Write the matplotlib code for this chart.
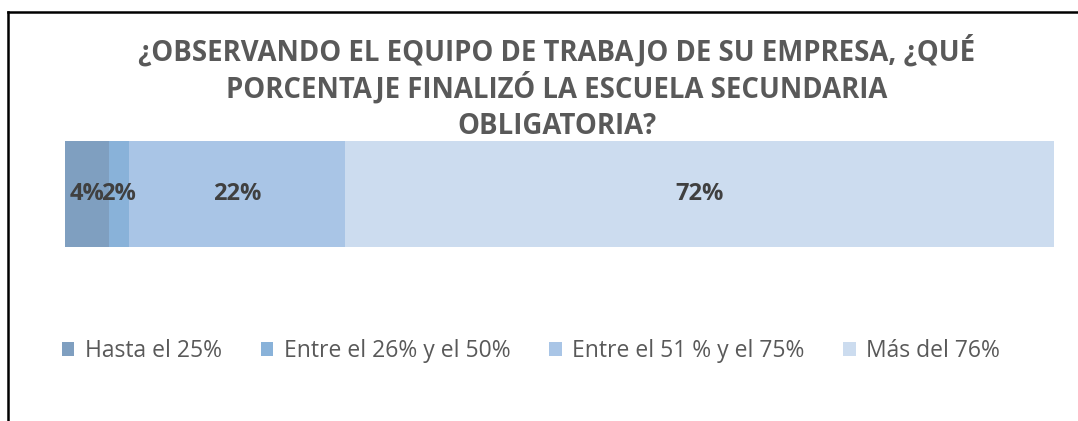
import matplotlib
matplotlib.use('Agg')
import matplotlib.pyplot as plt
from matplotlib.lines import Line2D
from matplotlib.patches import Patch

# data
categories = ['Hasta el 25%', 'Entre el 26% y el 50%', 'Entre el 51 % y el 75%', 'Más del 76%']
values = [4.4, 2.1, 21.8, 71.7]
colors = ['#7f9fc0', '#89b2d9', '#a9c5e6', '#ccdcef']
title_lines = ['¿OBSERVANDO EL EQUIPO DE TRABAJO DE SU EMPRESA, ¿QUÉ',
               'PORCENTAJE FINALIZÓ LA ESCUELA SECUNDARIA',
               'OBLIGATORIA?']

plt.rcParams['font.family'] = ['Open Sans', 'DejaVu Sans']

W, H = 1078, 421
fig = plt.figure(figsize=(W / 100, H / 100), dpi=100)

# bar axes spans exactly the bar
ax = fig.add_axes([65 / W, (H - 247) / H, (1054 - 65) / W, (247 - 141) / H])
left = 0
for cat, v, c in zip(categories, values, colors):
    ax.barh(0, v, left=left, height=1.0, color=c, edgecolor='none', label=cat)
    ax.text(left + v / 2, 0, f'{round(v)}%', ha='center', va='center',
            fontsize=17, fontweight='bold', color='#404040')
    left += v
ax.set_xlim(0, sum(values))
ax.set_ylim(-0.5, 0.5)
ax.axis('off')

# title, one line at a time so the spacing stays even
for i, line in enumerate(title_lines):
    fig.text(557 / W, 1 - (51 + 37.5 * i) / H, line, ha='center', va='center',
             fontsize=19.8, fontweight='bold', color='#595959')

handles = [Patch(facecolor=c, edgecolor='none') for c in colors]
fig.legend(handles, categories, loc='center', bbox_to_anchor=(531 / W, 1 - 351 / H),
           ncol=4, frameon=False, fontsize=16.5, labelcolor='#595959',
           handlelength=0.55, handleheight=0.55, handletextpad=0.45, columnspacing=1.7)

# chart frame (only left and top edges visible in the crop)
fig.add_artist(Line2D([8 / W, 8 / W], [0, 1 - 12 / H], color='black', lw=1.8))
fig.add_artist(Line2D([8 / W, 1], [1 - 12 / H, 1 - 12 / H], color='black', lw=1.8))

fig.savefig('out.png', dpi=100)
